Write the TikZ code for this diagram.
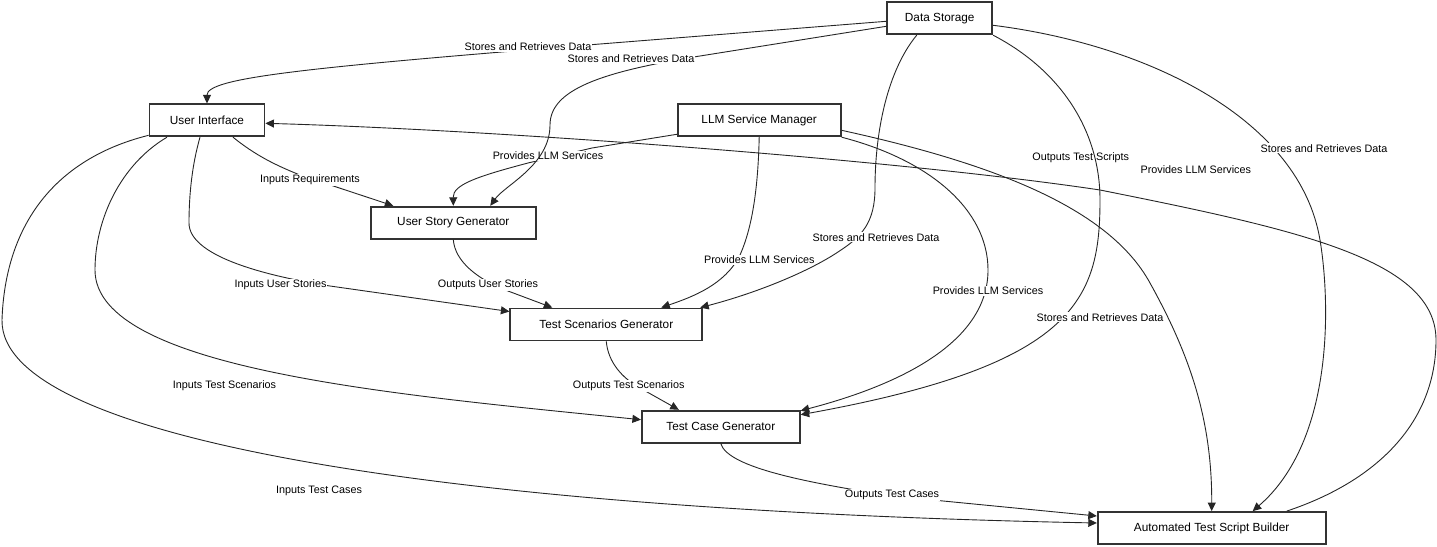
\documentclass[tikz,border=0pt]{standalone}
\usepackage{fontspec}
\setmainfont{Liberation Sans}
\usetikzlibrary{arrows.meta}
\begin{document}
\begin{tikzpicture}[
  x=1pt,y=-1pt,
  box/.style={draw=black!80,line width=1.8pt,fill=white,inner sep=0pt,
    minimum height=32pt,font=\fontsize{11.8}{14}\selectfont},
  lbl/.style={fill=white,inner sep=1pt,font=\fontsize{10.8}{13}\selectfont},
  arr/.style={-{Triangle[length=8.5pt,width=8pt]},line width=0.9pt,draw=black!85}
]
\useasboundingbox (0,0) rectangle (1437,546);
\node[box,minimum width=105pt] (store) at (939.7,18.3) {Data Storage};
\node[box,minimum width=115pt] (ui) at (207,120.3) {User Interface};
\node[box,minimum width=163pt] (llm) at (759.2,120.3) {LLM Service Manager};
\node[box,minimum width=165pt] (stories) at (453.3,222.7) {User Story Generator};
\node[box,minimum width=192pt] (scenarios) at (606.3,324.5) {Test Scenarios Generator};
\node[box,minimum width=158pt] (cases) at (720.8,426.7) {Test Case Generator};
\node[box,minimum width=228pt] (builder) at (1211.7,528) {Automated Test Script Builder};
\draw[arr] ([yshift=-3pt]store.west) -- (600,44) .. controls (300,68) and (207,78) .. (ui.north);
\node[lbl] (storeUi) at (528,47) {Stores and Retrieves Data};
\draw[arr] ([yshift=-14pt]llm.west) -- (592,148) -- (528,163)
  .. controls (475,177) and (453,185) .. (stories.north);
\node[lbl] (llmStories) at (548,156) {Provides LLM Services};
\draw[arr] ([yshift=-8pt]store.west) -- (700,56) .. controls (600,72) and (550,90) .. (550,125)
  .. controls (550,165) and (505,185) .. ([xshift=37pt]stories.north);
\node[lbl] (storeStories) at (631,59) {Stores and Retrieves Data};
\draw[arr] ([xshift=26pt]ui.south) .. controls (255,155) and (275,165) .. (300,175)
  -- ([xshift=-60pt]stories.north);
\node[lbl] (uiStories) at (310,180) {Inputs Requirements};
\draw[arr] ([xshift=-7pt]ui.south) .. controls (192,165) and (189,195) .. (189,223)
  .. controls (189,255) and (260,275) .. (330,286) -- ([yshift=13pt]scenarios.west);
\node[lbl] (uiScenarios) at (280.5,285) {Inputs User Stories};
\draw[arr] (stories.south) .. controls (455,262) and (478,278) .. (500,288)
  -- ([xshift=-54pt]scenarios.north);
\node[lbl] (storiesScenarios) at (488,285) {Outputs User Stories};
\draw[arr] (llm.south) .. controls (758,190) and (752,228) .. (740,255)
  .. controls (725,285) and (692,297) .. ([xshift=55pt]scenarios.north);
\node[lbl] (llmScenarios) at (759.4,260) {Provides LLM Services};
\draw[arr] ([xshift=-23pt]store.south) .. controls (888,70) and (875,130) .. (875,188)
  .. controls (875,222) and (862,236) .. (841,250)
  .. controls (812,270) and (760,292) .. ([xshift=-3pt]scenarios.north east);
\node[lbl] (storeScenarios) at (876,237.3) {Stores and Retrieves Data};
\draw[arr] ([xshift=-40pt]ui.south) .. controls (120,165) and (95,220) .. (95,270)
  .. controls (95,370) and (400,395) .. ([yshift=7pt]cases.west);
\node[lbl] (uiCases) at (224.5,386) {Inputs Test Scenarios};
\draw[arr] (scenarios.south) .. controls (608,362) and (622,378) .. (640,388)
  -- ([xshift=-42pt]cases.north);
\node[lbl] (scenariosCases) at (628.7,386) {Outputs Test Scenarios};
\draw[arr] (llm.south east) .. controls (930,160) and (988,210) .. (988,270)
  .. controls (988,350) and (880,390) .. ([yshift=16pt]cases.east);
\node[lbl] (llmCases) at (988,291) {Provides LLM Services};
\draw[arr] ([xshift=75pt]builder.north) .. controls (1380,480) and (1436,420) .. (1436,340)
  .. controls (1436,260) and (1300,230) .. (1100,190)
  .. controls (900,160) and (500,130) .. ([yshift=-3pt]ui.east);
\node[lbl] (builderUi) at (1080.8,157.3) {Outputs Test Scripts};
\draw[arr] (store.south east) .. controls (1060,70) and (1100,130) .. (1100,200)
  .. controls (1100,300) and (1075,365) .. ([yshift=12pt]cases.east);
\node[lbl] (storeCases) at (1100,317.3) {Stores and Retrieves Data};
\draw[arr] ([yshift=-15pt]ui.west) .. controls (50,160) and (5,230) .. (2,320)
  .. controls (0,440) and (450,510) .. ([yshift=5pt]builder.west);
\node[lbl] (uiBuilder) at (319,491) {Inputs Test Cases};
\draw[arr] (cases.south) .. controls (728,468) and (810,483) .. (892,496)
  -- ([yshift=12pt]builder.west);
\node[lbl] (casesBuilder) at (892,495.3) {Outputs Test Cases};
\draw[arr] ([yshift=-10pt]llm.east) .. controls (1000,165) and (1110,210) .. (1150,283)
  .. controls (1190,355) and (1212,420) .. (builder.north);
\node[lbl] (llmBuilder) at (1195.8,170) {Provides LLM Services};
\draw[arr] ([yshift=-7pt]store.east) .. controls (1150,45) and (1300,120) .. (1320,240)
  .. controls (1330,300) and (1335,440) .. ([xshift=41pt]builder.north);
\node[lbl] (storeBuilder) at (1324,148.3) {Stores and Retrieves Data};
\end{tikzpicture}
\end{document}
